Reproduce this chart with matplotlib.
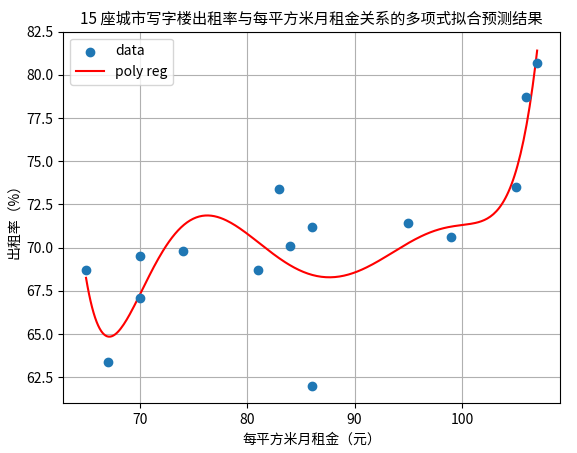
import numpy as np
import matplotlib
matplotlib.use("Agg")
import matplotlib.pyplot as plt

plt.rcParams['font.family'] = ['Noto Sans CJK SC', 'DejaVu Sans']
plt.rcParams['axes.unicode_minus'] = False

rent = [65, 67, 70, 70, 74, 81, 83, 84, 86, 86, 95, 99, 105, 106, 107]
occupancy = [68.7, 63.4, 69.5, 67.1, 69.8, 68.7, 73.4, 70.1, 71.2, 62.0, 71.4, 70.6, 73.5, 78.7, 80.7]
degree = 8

x = np.array(rent, float)
y = np.array(occupancy, float)
xm, xs = x.mean(), x.std()
coef = np.polyfit((x - xm) / xs, y, degree)
xx = np.linspace(x.min(), x.max(), 300)
yy = np.polyval(coef, (xx - xm) / xs)

fig, ax = plt.subplots(figsize=(5.77, 4.53), dpi=100)
ax.scatter(x, y, color='#1f77b4', label='data', zorder=3)
ax.plot(xx, yy, color='red', label='poly reg')
ax.set_title('15 座城市写字楼出租率与每平方米月租金关系的多项式拟合预测结果', fontsize=11)
ax.set_xlabel('每平方米月租金（元）')
ax.set_ylabel('出租率（%）')
ax.set_xticks([70, 80, 90, 100])
ax.set_yticks(np.arange(62.5, 82.6, 2.5))
ax.set_ylim(61.0, 82.5)
ax.grid(True)
ax.legend(loc='upper left')
fig.subplots_adjust(left=0.11, right=0.97, top=0.93, bottom=0.11)
fig.savefig('out.png')
